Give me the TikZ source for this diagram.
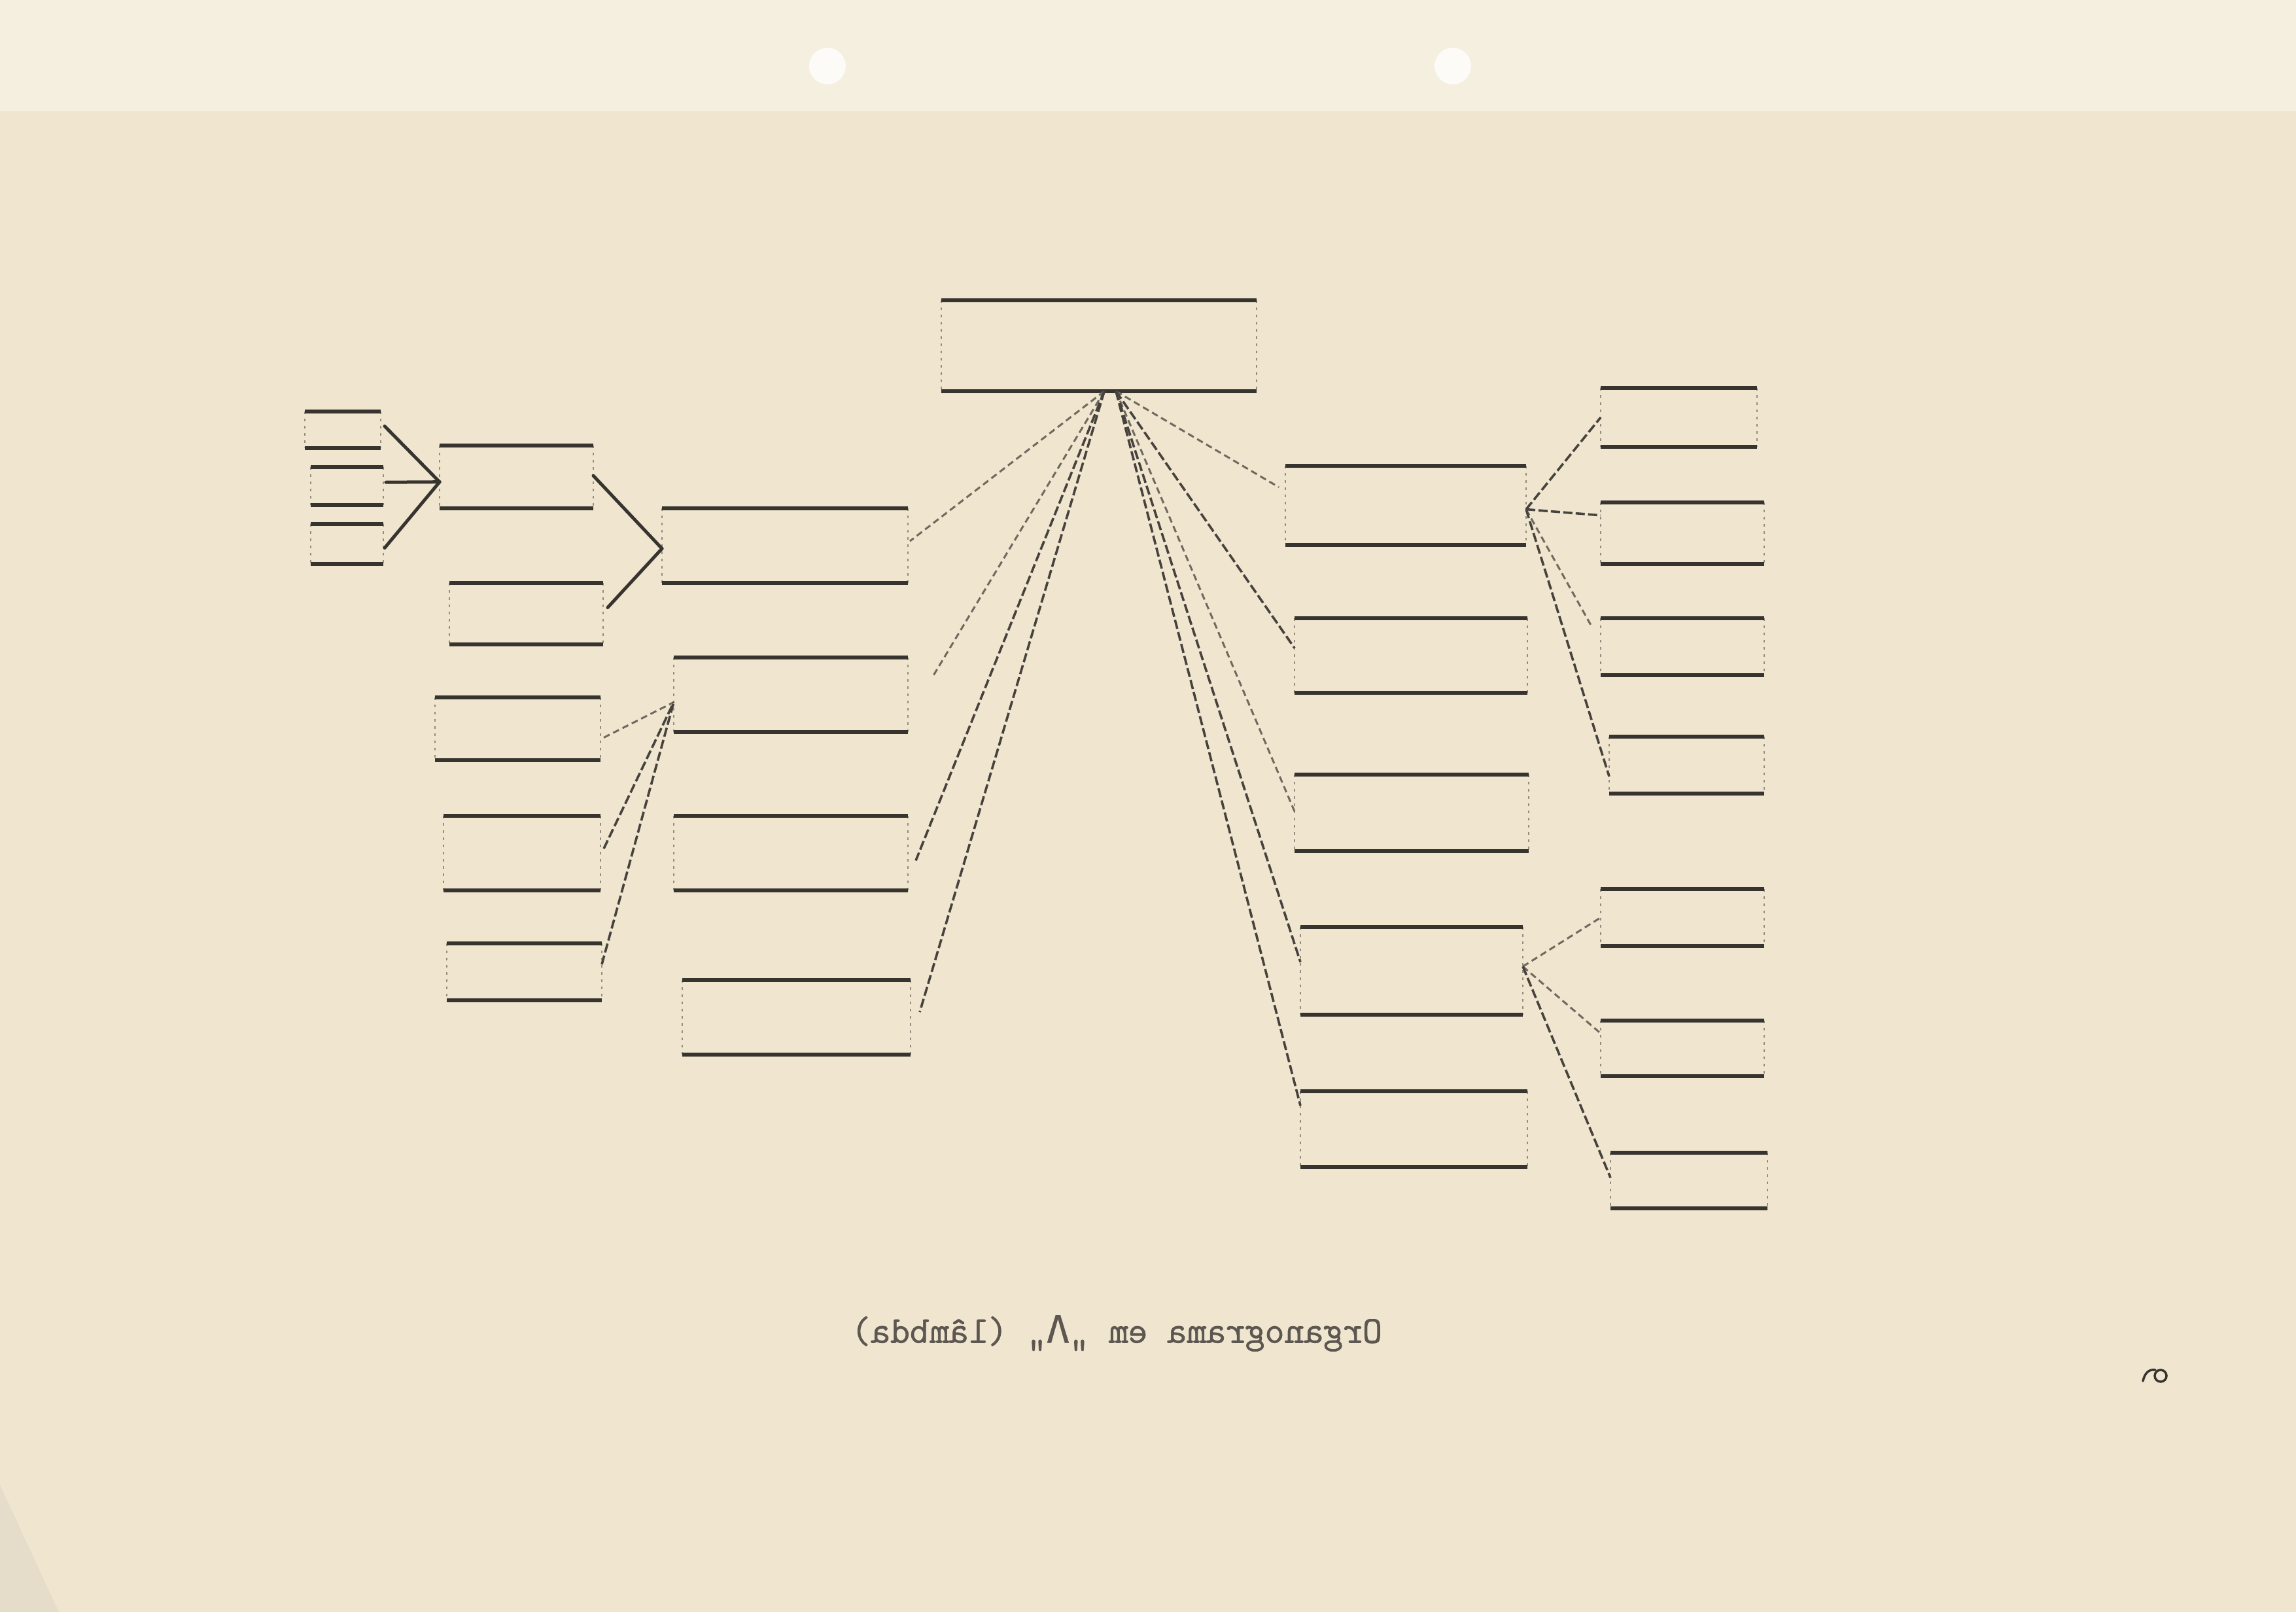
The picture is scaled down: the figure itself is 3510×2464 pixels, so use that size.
\documentclass[tikz,border=0pt]{standalone}
\usepackage{fontspec}
\usetikzlibrary{fit,calc}
\newfontfamily\capfont[FakeBold=1.2]{Latin Modern Mono}
\newfontfamily\capgreek[FakeBold=0.6]{DejaVu Sans Mono}
\definecolor{paper}{RGB}{240,229,206}
\definecolor{paperlight}{RGB}{245,239,224}
\definecolor{paperdark}{RGB}{230,220,202}
\definecolor{hole}{RGB}{252,251,247}
\definecolor{ink}{RGB}{55,52,48}
\tikzset{
  obox/.style={inner sep=0pt, outer sep=0pt},
  hline/.style={draw=ink, line width=6pt},
  vside/.style={draw=ink!50!paper, line width=2.2pt, dash pattern=on 4pt off 7pt},
  solidlink/.style={draw=ink, line width=5pt, line cap=round},
  fanlink/.style={draw=ink!92!paper, line width=3.6pt, dash pattern=on 14pt off 5pt},
  lightlink/.style={draw=ink!70!paper, line width=3pt, dash pattern=on 10pt off 6pt},
}
\newcommand{\orgbox}[5]{\node[obox, fit={(#2,#3) (#4,#5)}] (#1) {};}
\begin{document}
\begin{tikzpicture}[x=1pt,y=-1pt]
\useasboundingbox (0,0) rectangle (3510,2464);
% paper
\fill[paper] (0,0) rectangle (3510,2464);
\fill[paperlight] (0,0) rectangle (3510,170);
\fill[hole] (1265,101) circle (28);
\fill[hole] (2221,101) circle (28);
\fill[paperdark] (0,2270) -- (90,2464) -- (0,2464) -- cycle;

% boxes
\orgbox{T}{1439}{459}{1921}{598}
\orgbox{L1}{466}{629}{582}{685}
\orgbox{L2}{475}{714}{586}{772}
\orgbox{L3}{475}{801}{586}{862}
\orgbox{A}{672}{681}{907}{777}
\orgbox{B}{687}{891}{922}{985}
\orgbox{C}{1012}{777}{1388}{891}
\orgbox{G1}{665}{1066}{918}{1162}
\orgbox{G2}{678}{1247}{918}{1361}
\orgbox{G3}{683}{1442}{920}{1529}
\orgbox{D}{1030}{1005}{1388}{1119}
\orgbox{E}{1030}{1247}{1388}{1361}
\orgbox{F}{1043}{1498}{1392}{1612}
\orgbox{R1}{1965}{712}{2333}{833}
\orgbox{R2}{1979}{945}{2335}{1059}
\orgbox{R3}{1979}{1184}{2337}{1301}
\orgbox{R4}{1988}{1417}{2328}{1551}
\orgbox{R5}{1988}{1668}{2335}{1784}
\orgbox{S1}{2447}{593}{2686}{683}
\orgbox{S2}{2447}{768}{2697}{862}
\orgbox{S3}{2447}{945}{2697}{1032}
\orgbox{S4}{2460}{1126}{2697}{1213}
\orgbox{S5}{2447}{1359}{2697}{1446}
\orgbox{S6}{2447}{1560}{2697}{1645}
\orgbox{S7}{2462}{1762}{2702}{1847}

\foreach \n in {T,L1,L2,L3,A,B,C,G1,G2,G3,D,E,F,R1,R2,R3,R4,R5,S1,S2,S3,S4,S5,S6,S7}{
  \draw[vside] (\n.north west) -- (\n.south west);
  \draw[vside] (\n.north east) -- (\n.south east);
  \draw[hline] (\n.north west) -- (\n.north east);
  \draw[hline] (\n.south west) -- (\n.south east);
}

% left cluster
\coordinate (Ain) at ($(A.north west)!0.58!(A.south west)$);
\coordinate (Cin) at ($(C.north west)!0.54!(C.south west)$);
\coordinate (Din) at ($(D.north west)!0.6!(D.south west)$);
\draw[solidlink] ($(L1.north east)!0.4!(L1.south east)+(6,0)$) -- (Ain);
\draw[solidlink] ($(L2.north east)!0.4!(L2.south east)+(4,0)$) -- (Ain);
\draw[solidlink] ($(L3.north east)!0.6!(L3.south east)+(2,0)$) -- (Ain);
\draw[solidlink] ($(A.north east)!0.48!(A.south east)$) -- (Cin);
\draw[solidlink] ($(B.north east)!0.4!(B.south east)+(7,0)$) -- (Cin);
\draw[lightlink] ($(G1.north east)!0.64!(G1.south east)+(5,0)$) -- (Din);
\draw[fanlink] ($(G2.north east)!0.44!(G2.south east)+(5,0)$) -- (Din);
\draw[fanlink] ($(G3.north east)!0.37!(G3.south east)$) -- (Din);

% fan from the top box
\coordinate (aL) at ($(T.south west)!0.517!(T.south east)$);
\coordinate (aR) at ($(T.south west)!0.554!(T.south east)$);
\coordinate (dend) at (1426,1034);
\draw[lightlink] (aL) -- ($(C.north east)!0.44!(C.south east)+(3,0)$);
\draw[lightlink] (aL) -- (dend);
\draw[fanlink] (aL) -- ($(E.north east)!0.6!(E.south east)+(12,0)$);
\draw[fanlink] (aL) -- ($(F.north east)!0.43!(F.south east)+(14,0)$);
\draw[lightlink] (aR) -- ($(R1.north west)!0.27!(R1.south west)+(-10,0)$);
\draw[fanlink] (aR) -- ($(R2.north west)!0.4!(R2.south west)$);
\draw[lightlink] (aR) -- ($(R3.north west)!0.48!(R3.south west)$);
\draw[fanlink] (aR) -- ($(R4.north west)!0.4!(R4.south west)$);
\draw[fanlink] (aR) -- ($(R5.north west)!0.19!(R5.south west)$);

% right clusters
\coordinate (R1out) at ($(R1.north east)!0.55!(R1.south east)$);
\coordinate (R4out) at ($(R4.north east)!0.45!(R4.south east)$);
\draw[fanlink] (R1out) -- (S1.west);
\draw[fanlink] (R1out) -- ($(S2.north west)!0.21!(S2.south west)$);
\draw[lightlink] (R1out) -- ($(S3.north west)!0.12!(S3.south west)+(-15,0)$);
\draw[fanlink] (R1out) -- ($(S4.north west)!0.7!(S4.south west)$);
\draw[lightlink] (R4out) -- ($(S5.north west)!0.5!(S5.south west)$);
\draw[lightlink] (R4out) -- ($(S6.north west)!0.23!(S6.south west)$);
\draw[fanlink] (R4out) -- ($(S7.north west)!0.45!(S7.south west)$);

% caption (mirrored, as printed)
\node[text=ink!80!paper, inner sep=0pt] (cap) at (1707,2038)
  {\reflectbox{\fontsize{58}{60}\selectfont\capfont Organograma em „{\capgreek Λ}„ (lâmbda)}};

% page mark
\draw[ink, line width=3.5pt] (3303,2103) circle (9);
\draw[ink, line width=3.5pt, line cap=round] (3295,2094) .. controls (3283,2092) and (3278,2102) .. (3276,2111);
\end{tikzpicture}
\end{document}
